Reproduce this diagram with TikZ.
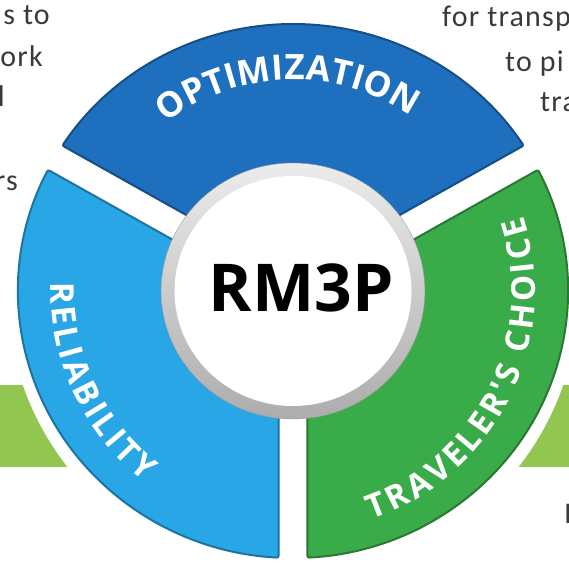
\documentclass[tikz,border=0pt]{standalone}
\usepackage{fontspec}
\setmainfont{Carlito}[LetterSpace=4]
\newfontfamily\ringfont{Open Sans}
\usetikzlibrary{decorations.text}
\definecolor{optblue}{HTML}{1E70BE}
\definecolor{relblue}{HTML}{29A6E6}
\definecolor{travgreen}{HTML}{3AAB49}
\definecolor{bandgreen}{HTML}{92C650}
\definecolor{pagegray}{HTML}{3A3A3A}
\tikzset{
  segment/.style={line width=2pt, rounded corners=2pt},
  ringtext/.style={decorate, decoration={text along path, text align=fit to path, text={#1}}},
  pagetext/.style={text=pagegray, font=\fontsize{30}{36}\selectfont, inner sep=0pt},
}
\begin{document}
\begin{tikzpicture}[x=1pt, y=1pt]
  \useasboundingbox (0,0) rectangle (569,563);

  % green band behind the wheel
  \fill[bandgreen] (0,96) rectangle (569,178);
  \fill[white] (293,272) circle (286);

  \begin{scope}[shift={(293,272)}, xscale=1.03]
    \filldraw[segment, fill=optblue, draw=optblue!70!black]
      (90:16.2) -- (33:267) arc[start angle=33, end angle=147, radius=267] -- cycle;
    \filldraw[segment, fill=relblue, draw=relblue!70!black]
      (210:16.2) -- (153:267) arc[start angle=153, end angle=267, radius=267] -- cycle;
    \filldraw[segment, fill=travgreen, draw=travgreen!70!black]
      (330:16.2) -- (273:267) arc[start angle=273, end angle=387, radius=267] -- cycle;

    \shade[top color=gray!15, bottom color=gray!65, draw=gray!75] (0,0) circle (128);
    \fill[white] (0,0) circle (115);
  \end{scope}

  \begin{scope}[shift={(293,272)}]
    \path[ringtext={|\ringfont\bfseries\fontsize{35}{35}\selectfont\color{white}|OPTIMIZATION}]
      (127:211) arc[start angle=127, end angle=56, radius=211];
    \path[ringtext={|\ringfont\bfseries\fontsize{33}{33}\selectfont\color{white}|RELIABILITY}]
      (178:242) arc[start angle=178, end angle=232, radius=242];
    \path[ringtext={|\ringfont\bfseries\fontsize{33}{33}\selectfont\color{white}|TRAVELER'S CHOICE}]
      (289:242) arc[start angle=289, end angle=378, radius=242];
  \end{scope}

  \node[inner sep=0pt, font=\ringfont\bfseries\fontsize{66}{66}\selectfont] (hub) at (301,275.5) {RM3P};

  \node[pagetext, anchor=base east] (leftA) at (50,538) {s to};
  \node[pagetext, anchor=base east] (leftB) at (43,496) {ork};
  \node[pagetext, anchor=base east] (leftC) at (5,456) {l};
  \node[pagetext, anchor=base east] (leftD) at (18,373) {rs};

  \node[pagetext, anchor=base west] (rightA) at (442,536) {for transp};
  \node[pagetext, anchor=base west] (rightB) at (505,491) {to pi};
  \node[pagetext, anchor=base west] (rightC) at (540,451) {tra};
  \node[pagetext, anchor=base west] (rightD) at (564,40) {I};
\end{tikzpicture}
\end{document}
